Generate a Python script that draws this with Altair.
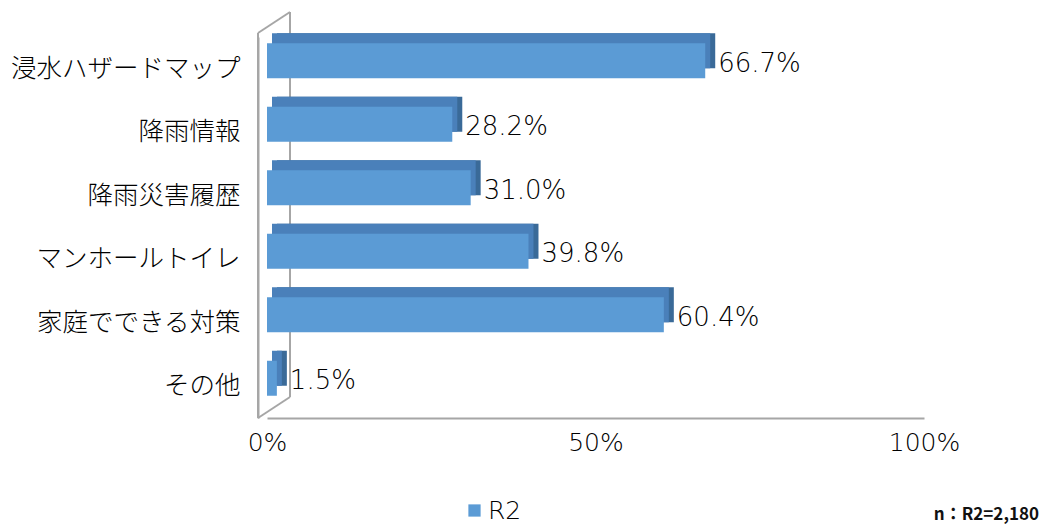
import altair as alt
import pandas as pd

categories = ["浸水ハザードマップ", "降雨情報", "降雨災害履歴", "マンホールトイレ", "家庭でできる対策", "その他"]
values = [66.7, 28.2, 31.0, 39.8, 60.4, 1.5]
series = ["R2"] * 6
x_ticks = [0, 50, 100]
note = "n：R2=2,180"

df = pd.DataFrame({"category": categories, "value": values, "series": series})
df["label"] = [f"{v:.1f}%" for v in values]

W, H = 657, 381
FRONT = "#5b9bd5"
TOP = "#4a80ba"
SIDE = "#3a6a98"
WALL = "#a6a6a6"
TXT = "#000000"
NUMFONT = "DejaVu Sans"

xenc = alt.X("value:Q",
             scale=alt.Scale(domain=[0, 100], nice=False, zero=True),
             axis=alt.Axis(values=x_ticks, labelExpr="datum.value + '%'", title=None,
                           grid=False, ticks=False, domainColor=WALL, domainWidth=2,
                           labelFontSize=25, labelPadding=12, labelColor=TXT,
                           labelFont=NUMFONT, labelFontWeight=200, labelFlush=False))
yenc = alt.Y("category:N", sort=categories,
             scale=alt.Scale(paddingInner=0, paddingOuter=0),
             axis=alt.Axis(title=None, ticks=False, domainColor=WALL, domainWidth=2,
                           offset=9, labelPadding=18, labelFontSize=25.5, labelLimit=0,
                           labelFont="Noto Sans CJK JP", labelFontWeight=300,
                           labelColor=TXT))

base = alt.Chart(df)

side = base.mark_bar(color=SIDE, size=35, xOffset=10, x2Offset=10, yOffset=-18).encode(
    x=xenc, y=yenc)
top = base.mark_bar(color=TOP, size=35, xOffset=5, x2Offset=5, yOffset=-18).encode(
    x=xenc, y=yenc)
front = base.mark_bar(size=35, yOffset=-8).encode(
    x=xenc, y=yenc,
    color=alt.Color("series:N",
                    scale=alt.Scale(domain=["R2"], range=[FRONT]),
                    legend=alt.Legend(title=None, orient="none", legendX=195, legendY=461,
                                      symbolType="square", symbolSize=150,
                                      symbolStrokeWidth=0, labelFontSize=25,
                                      labelFont=NUMFONT, labelFontWeight=200,
                                      labelColor=TXT, labelOffset=1)))
labels = base.mark_text(align="left", baseline="middle", dx=13, dy=-5, fontSize=26,
                        font=NUMFONT, fontWeight=200, color=TXT).encode(
    x=xenc, y=yenc, text="label:N")

wall_df = pd.DataFrame({"z": [0]})
wall = alt.Chart(wall_df)
back_line = wall.mark_rule(color=WALL, strokeWidth=2, xOffset=23).encode(
    x=alt.datum(0), y=alt.value(-25), y2=alt.value(360))
top_diag = wall.mark_rule(color=WALL, strokeWidth=2, xOffset=-9, x2Offset=23).encode(
    x=alt.datum(0), x2=alt.datum(0), y=alt.value(-4), y2=alt.value(-25))
bot_diag = wall.mark_rule(color=WALL, strokeWidth=2, xOffset=-9, x2Offset=23).encode(
    x=alt.datum(0), x2=alt.datum(0), y=alt.value(381), y2=alt.value(360))
left_line = wall.mark_rule(color=WALL, strokeWidth=2, xOffset=-9).encode(
    x=alt.datum(0), y=alt.value(-4), y2=alt.value(381))

note_layer = alt.Chart(pd.DataFrame({"note": [note]})).mark_text(
    align="right", baseline="middle", fontSize=17, fontWeight="bold",
    font="Noto Sans CJK JP", color="#111111").encode(
    x=alt.value(772), y=alt.value(478), text="note:N")

chart = alt.layer(back_line, top_diag, bot_diag, left_line, side, top, front, labels,
                  note_layer).properties(
    width=W, height=H,
    autosize=alt.AutoSizeParams(type="none"),
    padding={"left": 259, "top": 29, "right": 116, "bottom": 106},
).configure(background="white").configure_view(stroke=None)

chart.save("out.html", embed_options={"renderer": "svg", "actions": False})
